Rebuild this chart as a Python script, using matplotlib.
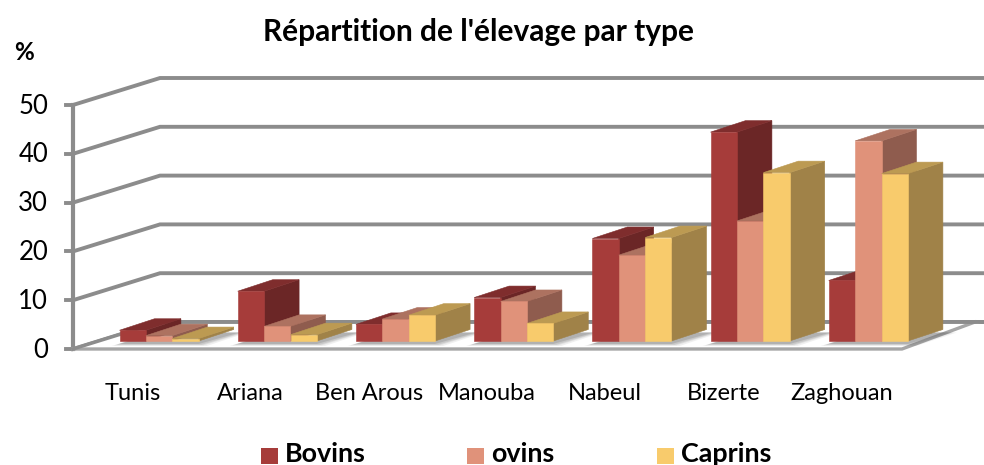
import matplotlib
matplotlib.use('Agg')
import matplotlib.pyplot as plt
from matplotlib.patches import Polygon, Rectangle

plt.rcParams['font.family'] = ['Lato', 'DejaVu Sans']

# Data
categories = ['Tunis', 'Ariana', 'Ben Arous', 'Manouba', 'Nabeul', 'Bizerte', 'Zaghouan']
bovins = [2.2, 10.2, 3.4, 8.9, 21.0, 42.8, 12.4]
ovins = [1.1, 3.0, 4.5, 8.1, 17.6, 24.6, 41.0]
caprins = [0.5, 1.3, 5.3, 3.6, 21.2, 34.5, 34.3]
y_ticks = [0, 10, 20, 30, 40, 50]
series_names = ['Bovins', 'ovins', 'Caprins']

# colours: front, side, top
colors = [('#A63C3A', '#6B2626', '#7F2D2D'),
          ('#E0927A', '#8F5C4E', '#AD7260'),
          ('#F8CB6C', '#A08248', '#BC9A52')]

# oblique projection, in pixels of the picture
y0 = 349.0
unit = 4.88
wall_dx, wall_dy = 87, -27
depth_dx, depth_dy = 35, -11.5
base_y = 341.0
first_x = 119.5
group_step = 118.2
bar_w = 26.4
grid_color = '#8C8C8C'

fig = plt.figure(figsize=(9.84, 4.65), dpi=100)
ax = fig.add_axes([0, 0, 1, 1])
ax.set_xlim(0, 984)
ax.set_ylim(465, 0)
ax.axis('off')

# walls and grid
for v in y_ticks:
    y = y0 - v * unit
    ax.plot([73, 73 + wall_dx, 984], [y, y + wall_dy, y + wall_dy],
            color=grid_color, lw=2.8, solid_joinstyle='miter', zorder=1)
    ax.plot([66, 73], [y, y], color=grid_color, lw=2.8, zorder=1)
    ax.text(48, y + 1, str(v), ha='right', va='center', fontsize=18.5, color='black')
ax.plot([73, 73], [y0, y0 - y_ticks[-1] * unit], color=grid_color, lw=3, zorder=1)

# floor
ax.add_patch(Polygon([(73, y0), (902, y0), (984, y0 + wall_dy), (160, y0 + wall_dy)],
                     closed=True, facecolor='white', edgecolor='none', zorder=1.5))
ax.plot([73, 902, 975], [y0, y0, y0 + wall_dy], color='#A6A6A6', lw=2.4, zorder=1.6)
ax.plot([160, 984], [y0 + wall_dy, y0 + wall_dy], color=grid_color, lw=2.8, zorder=1.6)
ax.plot([73, 160], [y0, y0 + wall_dy], color=grid_color, lw=2.4, zorder=1.6)

# shadows on the floor
z = 2.0
for i in range(len(categories)):
    x = first_x + i * group_step
    right = x + 3 * bar_w
    for grow, alpha in zip([8, 5, 3, 0], [0.10, 0.14, 0.18, 0.26]):
        ax.add_patch(Polygon([(x - grow, base_y + 3 + grow / 4), (right + grow, base_y + 3 + grow / 4),
                              (right + depth_dx + grow + 6, base_y + depth_dy + 3),
                              (x + depth_dx, base_y + depth_dy + 3)],
                             closed=True, facecolor='#707070', edgecolor='none', alpha=alpha, zorder=z))

# bars, from left to right so that each one hides the side of the one before
z = 3.0
for i in range(len(categories)):
    for j, values in enumerate([bovins, ovins, caprins]):
        h = values[i] * unit
        xl = first_x + i * group_step + j * bar_w
        xr = xl + bar_w
        top = base_y - h
        front, side, roof = colors[j]
        ax.add_patch(Polygon([(xr, base_y), (xr + depth_dx, base_y + depth_dy),
                              (xr + depth_dx, top + depth_dy), (xr, top)],
                             closed=True, facecolor=side, edgecolor=side, lw=0.4, zorder=z))
        ax.add_patch(Polygon([(xl, top), (xr, top), (xr + depth_dx, top + depth_dy),
                              (xl + depth_dx, top + depth_dy)],
                             closed=True, facecolor=roof, edgecolor=roof, lw=0.4, zorder=z + 0.1))
        ax.add_patch(Rectangle((xl, top), bar_w, h, facecolor=front, edgecolor=front, lw=0.4, zorder=z + 0.2))
        z += 1

# category labels
for i, name in enumerate(categories):
    ax.text(first_x + 13 + i * group_step, 393, name, ha='center', va='center', fontsize=17, color='black')

# titles
ax.text(478.5, 32, "Répartition de l'élevage par type", ha='center', va='center',
        fontsize=21.5, fontweight='bold', color='black')
ax.text(24, 53, '%', ha='center', va='center', fontsize=17.5, fontweight='bold', color='black')

# legend
legend_sq = [261, 467, 657]
legend_txt = [285, 491, 681]
for name, c, sx, tx in zip(series_names, colors, legend_sq, legend_txt):
    ax.add_patch(Rectangle((sx, 448), 17, 16, facecolor=c[0], edgecolor='none'))
    ax.text(tx, 454, name, ha='left', va='center', fontsize=19.4, fontweight='bold', color='black')

fig.savefig('out.png', dpi=100)
